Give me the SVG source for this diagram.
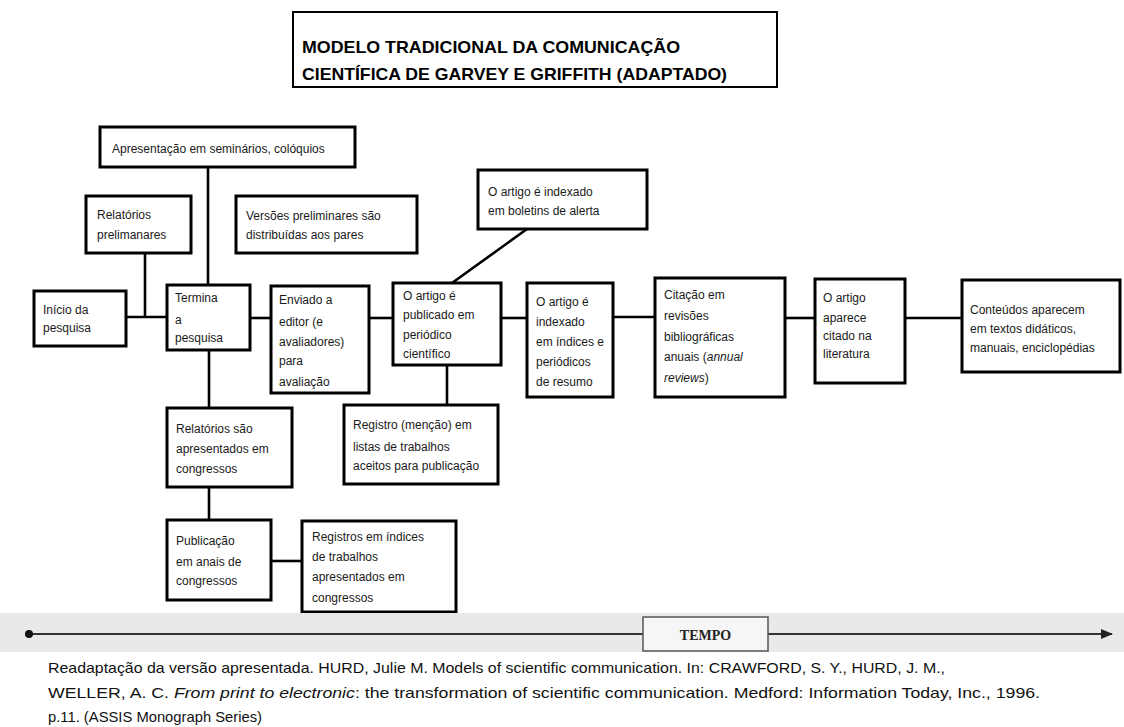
<svg xmlns="http://www.w3.org/2000/svg" width="1124" height="727" viewBox="0 0 1124 727">
<style>
.box{fill:#fff;stroke:#000;stroke-width:3}
.t{font-family:"Liberation Sans",Arial,sans-serif;font-size:12px;fill:#1a1a1a}
.title{font-family:"Liberation Sans",Arial,sans-serif;font-size:17px;font-weight:bold;fill:#000}
.cit{font-family:"Liberation Sans",Arial,sans-serif;font-size:15px;fill:#111}
.c{stroke:#000;stroke-width:2.6;fill:none}
</style>
<defs>
<marker id="arr" markerWidth="12" markerHeight="10" refX="11" refY="5" orient="auto" markerUnits="userSpaceOnUse">
<path d="M0,0 L12,5 L0,10 Z" fill="#222"/>
</marker>
</defs>
<rect width="1124" height="727" fill="#fff"/>

<g id="title">
<rect x="293" y="12" width="484" height="75" fill="#fff" stroke="#000" stroke-width="2"/>
<text class="title" x="302" y="53" textLength="378" lengthAdjust="spacingAndGlyphs">MODELO TRADICIONAL DA COMUNICAÇÃO</text>
<text class="title" x="302" y="80" textLength="425" lengthAdjust="spacingAndGlyphs">CIENTÍFICA DE GARVEY E GRIFFITH (ADAPTADO)</text>
</g>

<g id="connectors">
<line class="c" x1="208" y1="167" x2="208" y2="285"/>
<line class="c" x1="145" y1="253" x2="145" y2="317"/>
<line class="c" x1="126" y1="317" x2="167" y2="317"/>
<line class="c" x1="250" y1="318" x2="271" y2="318"/>
<line class="c" x1="369" y1="318" x2="393" y2="318"/>
<line class="c" x1="501" y1="318" x2="527" y2="318"/>
<line class="c" x1="613" y1="317" x2="655" y2="317" stroke-width="3.5"/>
<line class="c" x1="785" y1="318" x2="815" y2="318"/>
<line class="c" x1="905" y1="318" x2="962" y2="318"/>
<line class="c" x1="452" y1="283" x2="527" y2="229"/>
<line class="c" x1="447" y1="365" x2="447" y2="405"/>
<line class="c" x1="209" y1="350" x2="209" y2="408"/>
<line class="c" x1="209" y1="487" x2="209" y2="520"/>
<line class="c" x1="271" y1="561" x2="302" y2="561"/>
</g>

<g id="apresentacao">
<rect class="box" x="100" y="127" width="255" height="40"/>
<text class="t" x="112" y="153">Apresentação em seminários, colóquios</text>
</g>

<g id="relatorios-preliminares">
<rect class="box" x="86" y="196" width="105" height="57"/>
<text class="t" x="97" y="219">Relatórios</text>
<text class="t" x="97" y="239">prelimanares</text>
</g>

<g id="versoes">
<rect class="box" x="236" y="196" width="181" height="57"/>
<text class="t" x="246" y="220">Versões preliminares são</text>
<text class="t" x="246" y="239">distribuídas aos pares</text>
</g>

<g id="boletins">
<rect class="box" x="478" y="170" width="169" height="59"/>
<text class="t" x="488" y="196">O artigo é indexado</text>
<text class="t" x="488" y="215">em boletins de alerta</text>
</g>

<g id="inicio">
<rect class="box" x="34" y="291" width="92" height="55"/>
<text class="t" x="43" y="314">Início da</text>
<text class="t" x="43" y="332">pesquisa</text>
</g>

<g id="termina">
<rect class="box" x="167" y="285" width="83" height="65"/>
<text class="t" x="175" y="302">Termina</text>
<text class="t" x="175" y="324">a</text>
<text class="t" x="175" y="342">pesquisa</text>
</g>

<g id="enviado">
<rect class="box" x="271" y="286" width="98" height="107"/>
<text class="t" x="279" y="304">Enviado a</text>
<text class="t" x="279" y="326">editor (e</text>
<text class="t" x="279" y="346">avaliadores)</text>
<text class="t" x="279" y="365">para</text>
<text class="t" x="279" y="386">avaliação</text>
</g>

<g id="publicado">
<rect class="box" x="393" y="283" width="108" height="82"/>
<text class="t" x="403" y="300">O artigo é</text>
<text class="t" x="403" y="319">publicado em</text>
<text class="t" x="403" y="339">periódico</text>
<text class="t" x="403" y="358">científico</text>
</g>

<g id="indexado">
<rect class="box" x="527" y="283" width="86" height="114"/>
<text class="t" x="536" y="306">O artigo é</text>
<text class="t" x="536" y="326">indexado</text>
<text class="t" x="536" y="346">em índices e</text>
<text class="t" x="536" y="366">periódicos</text>
<text class="t" x="536" y="386">de resumo</text>
</g>

<g id="citacao">
<rect class="box" x="655" y="278" width="130" height="119"/>
<text class="t" x="664" y="299">Citação em</text>
<text class="t" x="664" y="320">revisões</text>
<text class="t" x="664" y="341">bibliográficas</text>
<text class="t" x="664" y="361">anuais (<tspan font-style="italic">annual</tspan></text>
<text class="t" x="664" y="382"><tspan font-style="italic">reviews</tspan>)</text>
</g>

<g id="aparece">
<rect class="box" x="815" y="279" width="90" height="104"/>
<text class="t" x="823" y="302">O artigo</text>
<text class="t" x="823" y="322">aparece</text>
<text class="t" x="823" y="340">citado na</text>
<text class="t" x="823" y="358">literatura</text>
</g>

<g id="conteudos">
<rect class="box" x="962" y="280" width="158" height="92"/>
<text class="t" x="970" y="314">Conteúdos aparecem</text>
<text class="t" x="970" y="333">em textos didáticos,</text>
<text class="t" x="970" y="352">manuais, enciclopédias</text>
</g>

<g id="registro-mencao">
<rect class="box" x="344" y="405" width="154" height="79"/>
<text class="t" x="353" y="429">Registro (menção) em</text>
<text class="t" x="353" y="451">listas de trabalhos</text>
<text class="t" x="353" y="470">aceitos para publicação</text>
</g>

<g id="relatorios-congressos">
<rect class="box" x="167" y="408" width="125" height="79"/>
<text class="t" x="176" y="433">Relatórios são</text>
<text class="t" x="176" y="453">apresentados em</text>
<text class="t" x="176" y="473">congressos</text>
</g>

<g id="publicacao-anais">
<rect class="box" x="167" y="520" width="104" height="80"/>
<text class="t" x="176" y="545">Publicação</text>
<text class="t" x="176" y="566">em anais de</text>
<text class="t" x="176" y="585">congressos</text>
</g>

<g id="registros-indices">
<rect class="box" x="302" y="521" width="154" height="91"/>
<text class="t" x="312" y="541">Registros em índices</text>
<text class="t" x="312" y="561">de trabalhos</text>
<text class="t" x="312" y="581">apresentados em</text>
<text class="t" x="312" y="602">congressos</text>
</g>

<g id="timeline">
<rect x="0" y="613" width="1124" height="39" fill="#e9e9e9"/>
<line x1="29" y1="634" x2="1112" y2="634" stroke="#333" stroke-width="2" marker-end="url(#arr)"/>
<circle cx="29" cy="634" r="4" fill="#111"/>
<rect x="643" y="617" width="125" height="34" fill="#f6f6f6" stroke="#555" stroke-width="1.5"/>
<text x="705.5" y="640" text-anchor="middle" font-family="'Liberation Serif','Times New Roman',serif" font-size="14" font-weight="bold" fill="#222">TEMPO</text>
</g>

<g id="citation">
<text class="cit" x="48" y="673" textLength="897" lengthAdjust="spacingAndGlyphs">Readaptação da versão apresentada. HURD, Julie M. Models of scientific communication. In: CRAWFORD, S. Y., HURD, J. M.,</text>
<text class="cit" x="48" y="698" textLength="992" lengthAdjust="spacingAndGlyphs">WELLER, A. C. <tspan font-style="italic">From print to electronic</tspan>: the transformation of scientific communication. Medford: Information Today, Inc., 1996.</text>
<text class="cit" x="48" y="722" textLength="214" lengthAdjust="spacingAndGlyphs">p.11. (ASSIS Monograph Series)</text>
</g>
</svg>
